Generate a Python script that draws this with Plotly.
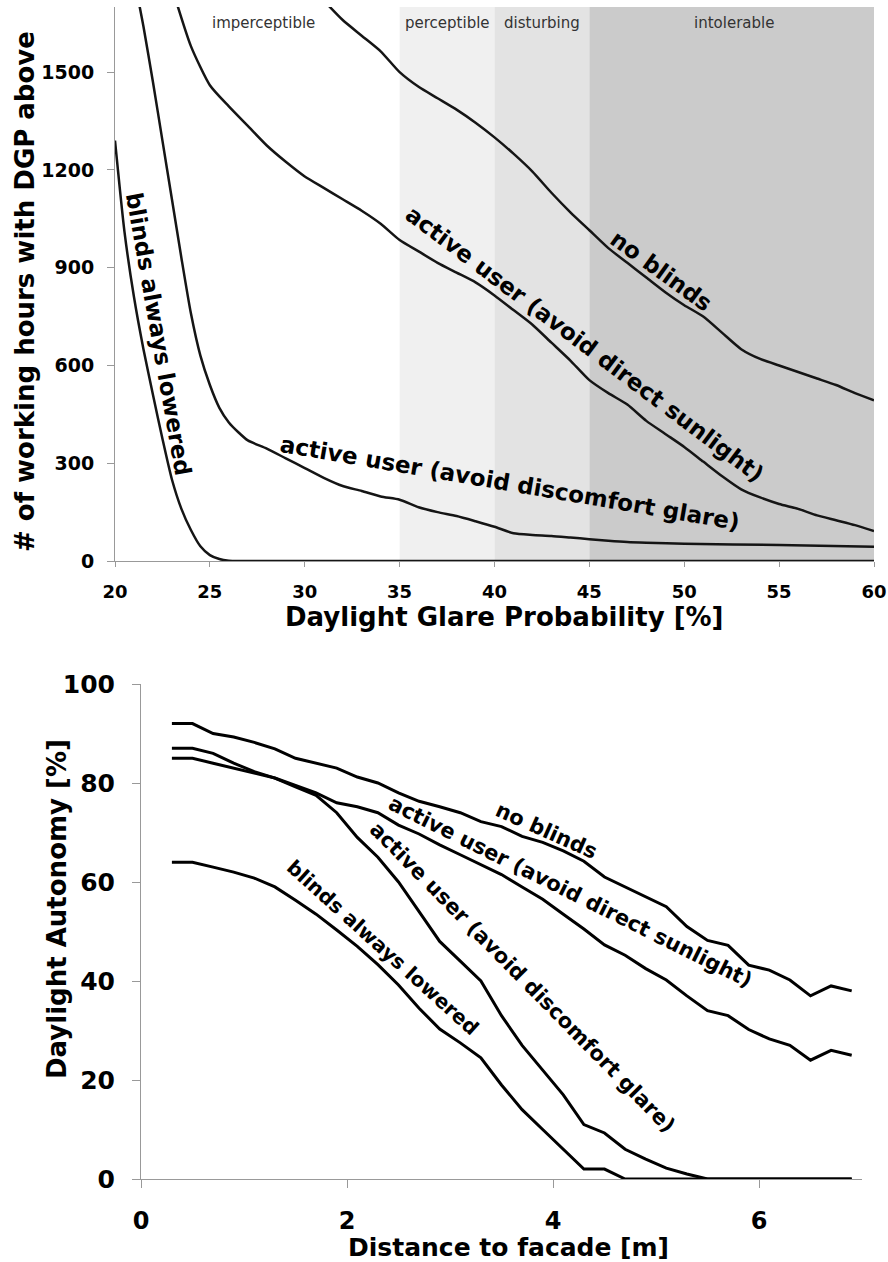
import plotly.graph_objects as go

# ---------------- top chart data ----------------
dgp_blinds_x = [20, 20.5, 21, 21.5, 22, 22.5, 23, 23.5, 24, 24.5, 25, 25.5, 26, 26.5, 27, 30, 35, 40, 45, 50, 55, 60]
dgp_blinds_y = [1290, 1010, 810, 650, 510, 375, 250, 160, 95, 45, 18, 6, 1, 0, 0, 0, 0, 0, 0, 0, 0, 0]

dgp_glare_x = [21, 21.5, 22, 22.5, 23, 23.5, 24, 24.5, 25, 25.5, 26, 26.5, 27, 28, 29, 30, 31, 32, 33, 34, 35,
               36, 37, 38, 39, 40, 41, 42, 43, 44, 45, 46, 47, 48, 50, 55, 60]
dgp_glare_y = [1790, 1640, 1470, 1290, 1110, 930, 760, 630, 540, 470, 425, 395, 370, 345, 315, 285, 255, 230, 215, 198, 188,
               165, 150, 138, 122, 105, 85, 80, 77, 72, 67, 62, 58, 56, 53, 49, 44]

dgp_sun_x = [23, 24, 25, 26, 27, 28, 29, 30, 31, 32, 33, 34, 35, 36, 37, 38, 39, 40, 41, 42, 43, 44, 45,
             46, 47, 48, 49, 50, 51, 52, 53, 54, 55, 56, 57, 58, 59, 60]
dgp_sun_y = [1760, 1580, 1460, 1395, 1335, 1275, 1225, 1180, 1145, 1110, 1075, 1035, 985, 950, 915, 885, 855, 815, 770, 725, 670, 615, 555,
             515, 480, 430, 390, 350, 305, 260, 220, 195, 175, 160, 140, 125, 110, 92]

dgp_none_x = [31, 32, 33, 34, 35, 36, 37, 38, 39, 40, 41, 42, 43, 44, 45, 46, 47, 48, 49, 50, 51, 52, 53, 54, 55, 56, 57, 58, 59, 60]
dgp_none_y = [1720, 1660, 1612, 1564, 1500, 1455, 1420, 1385, 1345, 1300, 1250, 1195, 1130, 1070, 1015, 960, 915, 870, 825, 785,
              750, 700, 650, 620, 600, 580, 560, 540, 515, 493]

zone_names = ["imperceptible", "perceptible", "disturbing", "intolerable"]
zone_edges = [20, 35, 40, 45, 60]
zone_colors = [None, "#f0f0f0", "#e3e3e3", "#cbcbcb"]
zone_label_x = [27.8, 37.5, 42.5, 52.6]

top_xticks = [20, 25, 30, 35, 40, 45, 50, 55, 60]
top_yticks = [0, 300, 600, 900, 1200, 1500]

# ---------------- bottom chart data ----------------
dist = [0.3, 0.5, 0.7, 0.9, 1.1, 1.3, 1.5, 1.7, 1.9, 2.1, 2.3, 2.5, 2.7, 2.9, 3.1, 3.3, 3.5,
        3.7, 3.9, 4.1, 4.3, 4.5, 4.7, 4.9, 5.1, 5.3, 5.5, 5.7, 5.9, 6.1, 6.3, 6.5, 6.7, 6.9]
da_none = [92, 92, 90, 89.3, 88.2, 86.9, 85, 84, 83, 81.2, 80, 78, 76.3, 75.2, 74, 72.2, 71.2,
           69.2, 68, 66.3, 64.2, 61, 59, 57, 55, 51, 48.2, 47.2, 43.2, 42.2, 40.2, 37, 39, 38]
da_sun = [85, 85, 84, 83, 82, 81, 79.5, 78, 76, 75.2, 74, 71.5, 69.7, 67.5, 65.5, 63.5, 61.5,
          59, 56.5, 53.5, 50.5, 47.3, 45.2, 42.5, 40.2, 37, 34, 33, 30.2, 28.3, 27, 24, 26, 25]
da_glare = [87, 87, 86, 84, 82.3, 81, 79.2, 77.5, 74, 69, 65, 60, 54, 48, 44, 40, 33,
            27, 22, 17, 11, 9.3, 6, 4, 2.2, 1, 0, 0, 0, 0, 0, 0, 0, 0]
da_blinds = [64, 64, 63, 62, 60.8, 59, 56.3, 53.5, 50.3, 47, 43.3, 39.2, 34.5, 30.3, 27.5, 24.5, 19,
             14, 10, 6, 2, 2, 0, 0, 0, 0, 0, 0, 0, 0, 0, 0, 0, 0]

bot_xticks = [0, 2, 4, 6]
bot_yticks = [0, 20, 40, 60, 80, 100]

# curve label texts / positions (data units) / angles / font sizes
top_labels = [
    ("blinds always lowered", 22.32, 698, 80, 23),
    ("active user (avoid discomfort glare)", 40.8, 240, 9.7, 23),
    ("active user (avoid direct sunlight)", 44.75, 665, 37, 23),
    ("no blinds", 48.8, 891, 36, 23),
]
bot_labels = [
    ("no blinds", 3.94, 70.3, 24, 21),
    ("active user (avoid direct sunlight)", 4.17, 58.0, 26.5, 21),
    ("active user (avoid discomfort glare)", 3.70, 40.8, 45.5, 21),
    ("blinds always lowered", 2.34, 46.8, 42, 20),
]

W, H = 888, 1262
FONT = "DejaVu Sans"


def fx(p):
    return p / W


def fy(p):
    return min(1.0, 1 - p / H)


fig = go.Figure()

for xs, ys in [(dgp_blinds_x, dgp_blinds_y), (dgp_glare_x, dgp_glare_y),
               (dgp_sun_x, dgp_sun_y), (dgp_none_x, dgp_none_y)]:
    fig.add_trace(go.Scatter(x=xs, y=ys, mode="lines",
                             line=dict(color="#151515", width=2.5, shape="spline", smoothing=0.6),
                             xaxis="x", yaxis="y", showlegend=False, hoverinfo="skip"))

for ys in [da_none, da_sun, da_glare, da_blinds]:
    fig.add_trace(go.Scatter(x=dist, y=ys, mode="lines", line=dict(color="#000000", width=3),
                             xaxis="x2", yaxis="y2", showlegend=False, hoverinfo="skip"))

shapes = []
for i in range(1, 4):
    shapes.append(dict(type="rect", xref="x", yref="y", x0=zone_edges[i], x1=zone_edges[i + 1],
                       y0=0, y1=1700, fillcolor=zone_colors[i], line=dict(width=0), layer="below"))

annotations = []
for name, lx in zip(zone_names, zone_label_x):
    annotations.append(dict(x=lx, y=1650, xref="x", yref="y", text=name, showarrow=False,
                            xanchor="center", yanchor="middle",
                            font=dict(family=FONT, size=15, color="#333333")))
for t, x, y, a, s in top_labels:
    annotations.append(dict(x=x, y=y, xref="x", yref="y", text=t, showarrow=False, textangle=a,
                            xanchor="center", yanchor="middle",
                            font=dict(family=FONT, size=s, color="#000000", weight="bold")))
for t, x, y, a, s in bot_labels:
    annotations.append(dict(x=x, y=y, xref="x2", yref="y2", text=t, showarrow=False, textangle=a,
                            xanchor="center", yanchor="middle",
                            font=dict(family=FONT, size=s, color="#000000", weight="bold")))

titles = [
    ("Daylight Glare Probability [%]", 504, 617, 0, 26),
    ("# of working hours with DGP above", 25, 292, -90, 26),
    ("Distance to facade [m]", 508, 1247, 0, 25),
    ("Daylight Autonomy [%]", 57, 909, -90, 26),
]
for t, xpx, ypx, a, s in titles:
    annotations.append(dict(x=fx(xpx), y=fy(ypx), xref="paper", yref="paper", text=t, showarrow=False,
                            textangle=a, xanchor="center", yanchor="middle",
                            font=dict(family=FONT, size=s, color="#000", weight="bold")))

axis_common = dict(showgrid=False, zeroline=False, showline=True, linecolor="#999999", linewidth=1,
                   ticks="outside", tickcolor="#999999", mirror=False, automargin=False, fixedrange=True)

fig.update_layout(
    template="none",
    width=W, height=H, margin=dict(l=0, r=0, t=0, b=0, pad=0),
    paper_bgcolor="white", plot_bgcolor="white",
    xaxis=dict(domain=[fx(115), fx(874)], range=[20, 60], tickvals=top_xticks, anchor="y",
               ticklen=5, ticklabelstandoff=9,
               tickfont=dict(family=FONT, size=18, color="#000", weight="bold"), **axis_common),
    yaxis=dict(domain=[fy(561), fy(7)], range=[0, 1700], tickvals=top_yticks, anchor="x",
               ticklen=7, ticklabelstandoff=9,
               tickfont=dict(family=FONT, size=19, color="#000", weight="bold"), **axis_common),
    xaxis2=dict(domain=[fx(141), fx(862)], range=[0, 7], tickvals=bot_xticks, anchor="y2",
                ticklen=8, ticklabelstandoff=12,
                tickfont=dict(family=FONT, size=24, color="#000", weight="bold"), **axis_common),
    yaxis2=dict(domain=[fy(1179), fy(684)], range=[0, 100], tickvals=bot_yticks, anchor="x2",
                ticklen=8, ticklabelstandoff=12,
                tickfont=dict(family=FONT, size=25, color="#000", weight="bold"), **axis_common),
    shapes=shapes, annotations=annotations,
)

# remove the default page margin so the figure fills the window exactly
fig.write_html("out.html", config={"displayModeBar": False, "staticPlot": True},
               post_script="document.body.style.margin='0';document.body.style.overflow='hidden';")
